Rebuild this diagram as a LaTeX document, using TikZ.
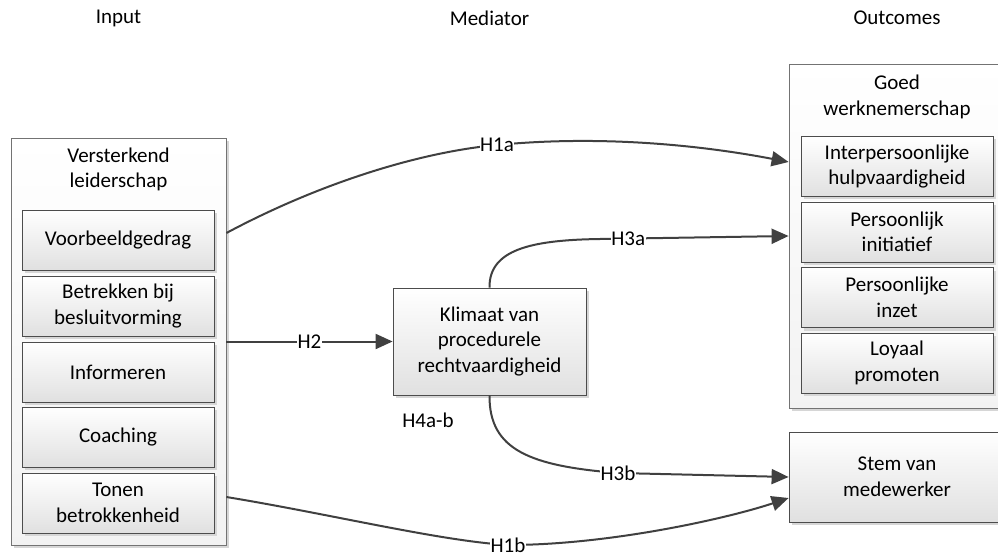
\documentclass[tikz,border=0pt]{standalone}
\usepackage{fontspec}
\setmainfont{Carlito}
\usetikzlibrary{arrows.meta,shadows,calc}
\definecolor{linec}{HTML}{404040}
\begin{document}
\begin{tikzpicture}[x=1pt,y=-1pt,
  every node/.style={font=\fontsize{21}{25.5}\selectfont, text=black},
  boxshadow/.style={drop shadow={shadow xshift=3pt,shadow yshift=-3pt,fill=black!16,opacity=1}},
  outerbox/.style={draw=black!55, line width=0.8pt, top color=white, bottom color=black!5, boxshadow, inner sep=0pt},
  innerbox/.style={draw=black!70, line width=0.8pt, top color=white, bottom color=black!12, boxshadow,
     minimum width=192pt, minimum height=60pt, align=center, inner sep=0pt},
  conn/.style={draw=linec, line width=2pt, -{Triangle[length=17pt,width=15pt]}},
  lbl/.style={fill=white, inner sep=0.5pt}
]
\useasboundingbox (0,0) rectangle (998,556);

% column titles
\node (tin) at (118.5,18) {Input};
\node (tmed) at (489.5,18) {Mediator};
\node (tout) at (897,18) {Outcomes};

% left group
\node[outerbox, minimum width=215pt, minimum height=407pt] (lo) at (118.5,341.5) {};
\node[align=center] (lot) at (118.5,169.5) {Versterkend\\leiderschap};
\node[innerbox] (vb) at (118,240) {Voorbeeldgedrag};
\node[innerbox] (bb) at (118,306) {Betrekken bij\\besluitvorming};
\node[innerbox] (inf) at (118,372) {Informeren};
\node[innerbox] (coa) at (118,437) {Coaching};
\node[innerbox] (tb) at (118,503) {Tonen\\betrokkenheid};

% mediator
\node[innerbox, minimum width=193pt, minimum height=107pt] (mid) at (489.5,341.5) {Klimaat van\\procedurele\\rechtvaardigheid};
\node (h4) at (428,420) {H4a-b};

% right group
\node[outerbox, minimum width=216pt, minimum height=344pt] (ro) at (897,236) {};
\node[align=center] (rot) at (897,97) {Goed\\werknemerschap};
\node[innerbox] (ih) at (897,166.5) {Interpersoonlijke\\hulpvaardigheid};
\node[innerbox] (pi) at (897,232) {Persoonlijk\\initiatief};
\node[innerbox] (pz) at (897,297.5) {Persoonlijke\\inzet};
\node[innerbox] (lp) at (897,363) {Loyaal\\promoten};

\node[innerbox, minimum width=216pt, minimum height=90pt] (stem) at (897,477) {Stem van\\medewerker};

% connectors
\draw[conn] ($(vb.east -| lo.east)+(0,-7)$) .. controls (320,183) and (420,152) .. (497,145)
   node[lbl] {H1a}
   .. controls (600,135) and (700,145) .. ($(ih.west -| ro.west)+(0,-4.5)$);

\draw[conn] (lo.east) -- node[lbl] {H2} (mid.west);

\draw[conn] (mid.north) .. controls (489,250) and (530,240) .. (600,239)
   -- node[lbl, pos=0.15] {H3a} ($(pi.west -| ro.west)+(0,4)$);

\draw[conn] (mid.south) .. controls (489,450) and (530,466) .. (618,473)
   node[lbl] {H3b} -- (stem.west);

\draw[conn] ($(tb.east -| lo.east)+(0,-6)$) .. controls (330,514) and (440,541) .. (508,545)
   node[lbl] {H1b}
   .. controls (610,545) and (729,518) .. ($(stem.west)+(0,21)$);
\end{tikzpicture}
\end{document}
